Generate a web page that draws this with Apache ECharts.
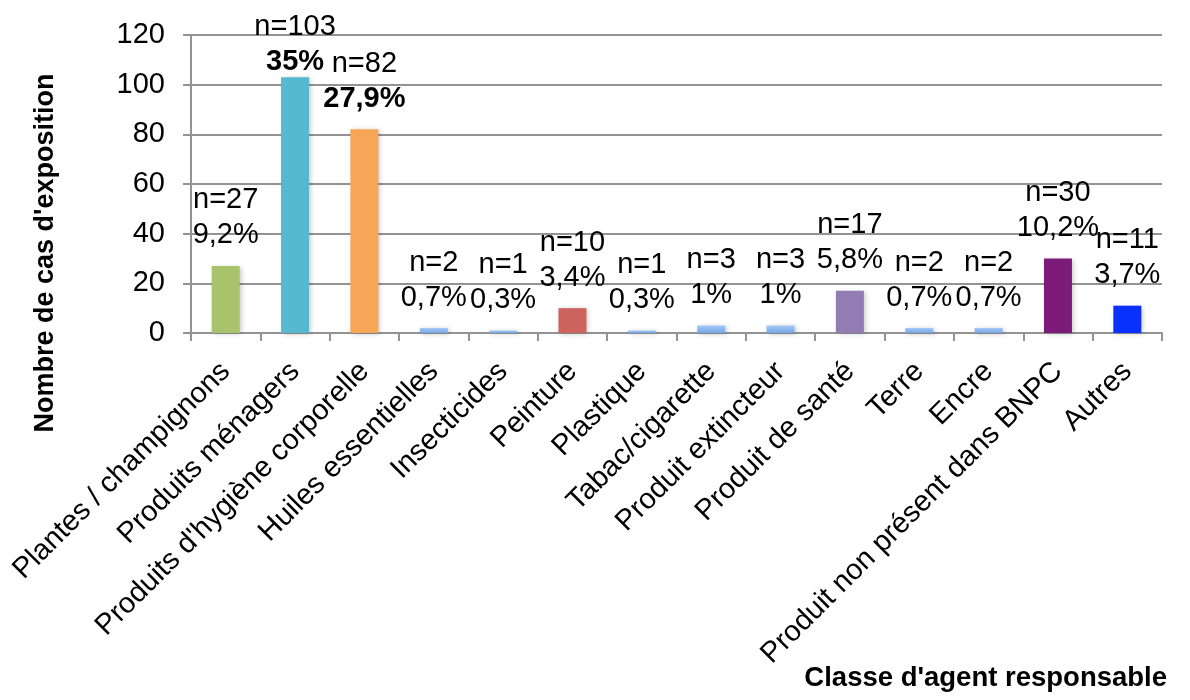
<!DOCTYPE html>
<html>
<head>
<meta charset="utf-8">
<script src="https://cdn.jsdelivr.net/npm/echarts@6/dist/echarts.min.js"></script>
<style>
  html, body { margin: 0; padding: 0; background: #ffffff; }
  #chart { width: 1190px; height: 700px; }
</style>
</head>
<body>
<div id="chart"></div>
<script>
// Classes d'agent responsable et nombre de cas d'exposition
const categories = [
  'Plantes / champignons',
  'Produits ménagers',
  "Produits d'hygiène corporelle",
  'Huiles essentielles',
  'Insecticides',
  'Peinture',
  'Plastique',
  'Tabac/cigarette',
  'Produit extincteur',
  'Produit de santé',
  'Terre',
  'Encre',
  'Produit non présent dans BNPC',
  'Autres'
];
const caseCounts = [27, 103, 82, 2, 1, 10, 1, 3, 3, 17, 2, 2, 30, 11];
const percentLabels = ['9,2%', '35%', '27,9%', '0,7%', '0,3%', '3,4%', '0,3%', '1%', '1%', '5,8%', '0,7%', '0,7%', '10,2%', '3,7%'];
const yTicks = [0, 20, 40, 60, 80, 100, 120];

const FONT = "'Liberation Sans', Arial, Helvetica, sans-serif";
const lightBlue = new echarts.graphic.LinearGradient(0, 0, 0, 1, [
  { offset: 0, color: '#a4c8f6' },
  { offset: 1, color: '#74a6e6' }
]);
const barColors = [
  '#a8c36b', '#55b9cf', '#f7a658', lightBlue, lightBlue, '#cc635d', lightBlue,
  lightBlue, lightBlue, '#937bb4', lightBlue, lightBlue, '#7c1b79', '#0a31fb'
];
// the two largest classes get a bold percentage
const boldIdx = new Set([1, 2]);
const GRID_COLOR = '#939393';

const chart = echarts.init(document.getElementById('chart'), null, { renderer: 'canvas' });

chart.setOption({
  animation: false,
  backgroundColor: '#ffffff',
  textStyle: { fontFamily: FONT },
  grid: { left: 191, right: 28, top: 35, bottom: 367, containLabel: false },
  xAxis: {
    type: 'category',
    data: categories,
    boundaryGap: true,
    axisLine: { show: true, lineStyle: { color: GRID_COLOR, width: 2 } },
    axisTick: { show: true, length: 8, alignWithLabel: false, lineStyle: { color: GRID_COLOR, width: 2 } },
    axisLabel: {
      interval: 0,
      rotate: 45,
      margin: 34,
      color: '#000000',
      fontSize: 29,
      fontFamily: FONT
    }
  },
  yAxis: {
    type: 'value',
    min: yTicks[0],
    max: yTicks[yTicks.length - 1],
    interval: yTicks[1] - yTicks[0],
    axisLine: { show: true, lineStyle: { color: GRID_COLOR, width: 2 } },
    axisTick: { show: true, length: 8, lineStyle: { color: GRID_COLOR, width: 2 } },
    splitLine: { show: true, lineStyle: { color: GRID_COLOR, width: 2 } },
    axisLabel: {
      margin: 26,
      color: '#000000',
      fontSize: 29,
      fontFamily: FONT
    }
  },
  series: [{
    type: 'bar',
    barWidth: 28,
    data: caseCounts.map((v, i) => ({
      value: v,
      itemStyle: {
        color: barColors[i],
        shadowColor: 'rgba(0,0,0,0.22)',
        shadowBlur: 5,
        shadowOffsetX: 2,
        shadowOffsetY: 1
      },
      // tallest bar: label pulled down so it stays inside the frame
      label: i === 1 ? { offset: [0, 15] } : undefined
    })),
    label: {
      show: true,
      position: 'top',
      distance: 13,
      formatter: (p) => '{n|n=' + caseCounts[p.dataIndex] + '}\n{' +
        (boldIdx.has(p.dataIndex) ? 'pb' : 'p') + '|' + percentLabels[p.dataIndex] + '}',
      rich: {
        n: { fontSize: 29, lineHeight: 35, color: '#000', fontFamily: FONT },
        p: { fontSize: 29, lineHeight: 35, color: '#000', fontFamily: FONT },
        pb: { fontSize: 29, lineHeight: 35, color: '#000', fontWeight: 'bold', fontFamily: FONT }
      }
    }
  }],
  graphic: [
    {
      type: 'text',
      x: 46,
      y: 253,
      rotation: Math.PI / 2,
      style: {
        text: "Nombre de cas d'exposition",
        fontSize: 27,
        fontWeight: 'bold',
        fontFamily: FONT,
        fill: '#000',
        textAlign: 'center',
        textVerticalAlign: 'middle'
      }
    },
    {
      type: 'text',
      x: 1167,
      y: 678,
      style: {
        text: "Classe d'agent responsable",
        fontSize: 27.5,
        fontWeight: 'bold',
        fontFamily: FONT,
        fill: '#000',
        textAlign: 'right',
        textVerticalAlign: 'middle'
      }
    }
  ]
});
</script>
</body>
</html>
